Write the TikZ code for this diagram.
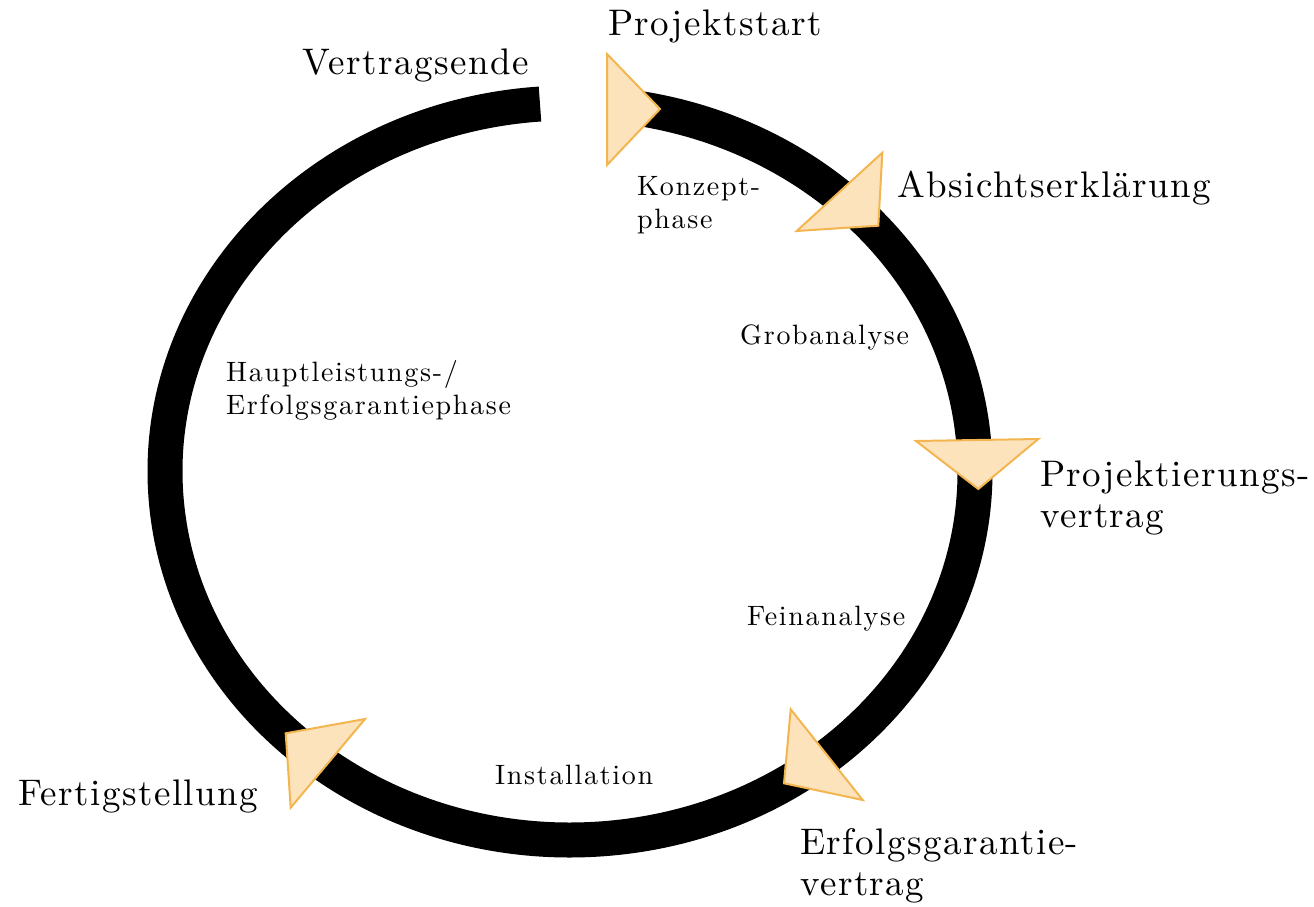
\documentclass[tikz,border=0pt]{standalone}
\usepackage{fontspec}
\newfontfamily\bigf{lmroman10-regular.otf}[LetterSpace=4]
\newfontfamily\smallf{lmroman10-regular.otf}[LetterSpace=6]
\definecolor{markfill}{HTML}{FCE3BC}
\definecolor{markline}{HTML}{F3B550}
\tikzset{
  bigtext/.style={font=\bigf\fontsize{37}{41}\selectfont, anchor=base west, inner sep=0pt, align=left},
  smalltext/.style={font=\smallf\fontsize{28}{33}\selectfont, anchor=base west, inner sep=0pt, align=left},
  marker/.style={fill=markfill, draw=markline, line width=2pt},
  ring/.style={draw=black, line width=35pt}
}
\begin{document}
\begin{tikzpicture}[x=1pt, y=-1pt]
\useasboundingbox (0,0) rectangle (1314,907);
\coordinate (c) at (570,471.5);
% cycle ring
\draw[ring] ([shift={(94.25:405pt and 368.5pt)}]c) arc[start angle=94.25, end angle=442.2, x radius=405pt, y radius=368.5pt];
% markers
\filldraw[marker] (607,54) -- (607,165) -- (660,109) -- cycle;
\filldraw[marker] (882.3,152.7) -- (796.7,231) -- (878.3,225.7) -- cycle;
\filldraw[marker] (916,441) -- (1038.3,439) -- (978.3,489) -- cycle;
\filldraw[marker] (790.7,709.3) -- (784,783.3) -- (862.7,800) -- cycle;
\filldraw[marker] (285.7,733.3) -- (365,719) -- (290.7,807.7) -- cycle;
% milestone labels (anchor = baseline of last line)
\node[bigtext] (vende) at (302,74.5) {Vertragsende};
\node[bigtext] (pstart) at (608,36) {Projektstart};
\node[bigtext] (absicht) at (897,197) {Absichtserklärung};
\node[bigtext] (pvertrag) at (1040,527) {Projektierungs-\\vertrag};
\node[bigtext] (evertrag) at (800,895) {Erfolgsgarantie-\\vertrag};
\node[bigtext] (fertig) at (18,805) {Fertigstellung};
% phase labels
\node[smalltext] (konzept) at (637,228) {Konzept-\\phase};
\node[smalltext] (grob) at (740,344) {Grobanalyse};
\node[smalltext] (haupt) at (226,414) {Hauptleistungs-/\\Erfolgsgarantiephase};
\node[smalltext] (fein) at (747,625) {Feinanalyse};
\node[smalltext] (install) at (495,784) {Installation};
\end{tikzpicture}
\end{document}
